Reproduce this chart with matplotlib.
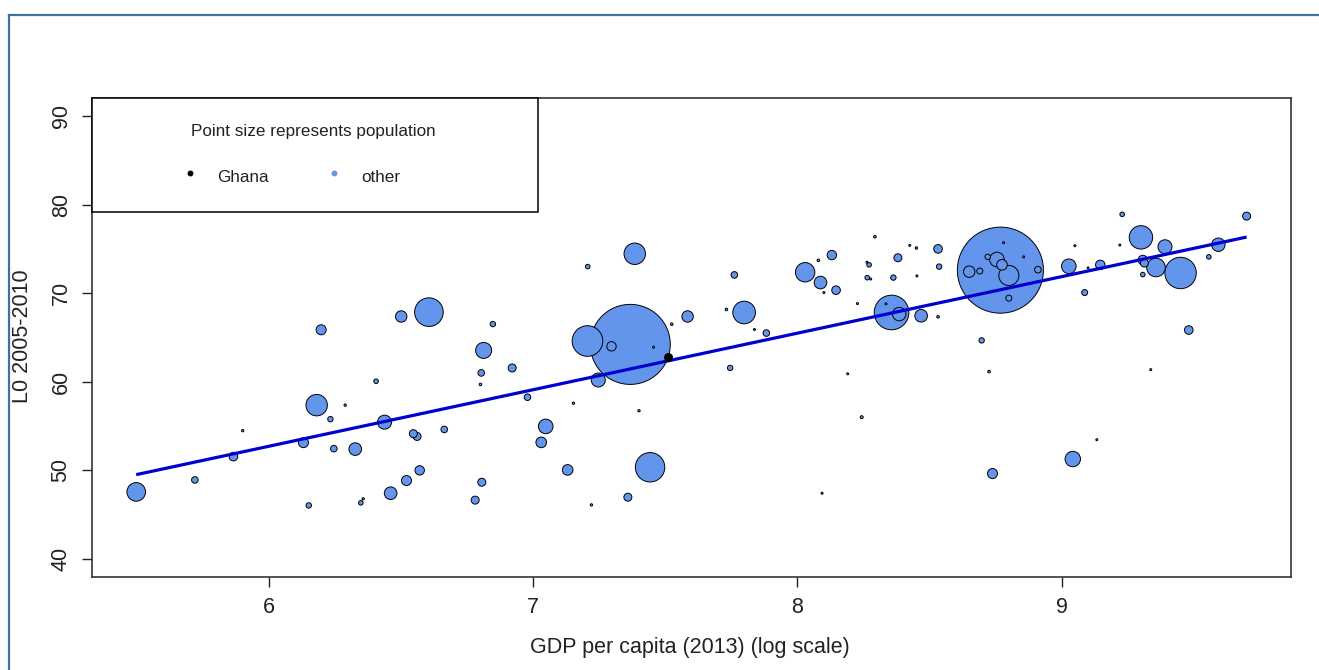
import numpy as np
import matplotlib.pyplot as plt
from matplotlib.patches import Rectangle
from matplotlib.lines import Line2D

plt.rcParams['font.family'] = ['Liberation Sans', 'DejaVu Sans']

# log of GDP per capita (2013) for every country except Ghana
log_gdp = [
    5.497, 5.719, 5.865, 5.900, 6.130, 6.150, 6.180, 6.197, 6.232, 6.288,
    6.245, 6.326, 6.347, 6.356, 6.405, 6.437, 6.460, 6.500, 6.546, 6.560,
    6.570, 6.520, 6.605, 6.663, 6.780, 6.805, 6.800, 6.803, 6.812, 6.847,
    6.920, 6.978, 7.030, 7.047, 7.130, 7.152, 7.205, 7.206, 7.220, 7.246,
    7.296, 7.358, 7.367, 7.384, 7.400, 7.442, 7.455, 7.524, 7.584, 7.731,
    7.745, 7.761, 7.798, 7.837, 7.882, 8.029, 8.079, 8.087, 8.093, 8.100,
    8.130, 8.146, 8.190, 8.227, 8.243, 8.263, 8.271, 8.264, 8.277, 8.293,
    8.335, 8.356, 8.363, 8.380, 8.385, 8.425, 8.450, 8.452, 8.468, 8.532,
    8.536, 8.532, 8.650, 8.690, 8.697, 8.720, 8.725, 8.738, 8.755, 8.768,
    8.774, 8.780, 8.800, 8.800, 8.856, 8.910, 9.027, 9.042, 9.050, 9.087,
    9.100, 9.133, 9.146, 9.220, 9.229, 9.300, 9.307, 9.313, 9.307, 9.337,
    9.357, 9.391, 9.450, 9.481, 9.557, 9.593, 9.700,
]

# life expectancy 2005-2010
life_exp = [
    47.57, 48.92, 51.55, 54.48, 53.13, 46.04, 57.36, 65.87, 55.78, 57.36,
    52.45, 52.40, 46.33, 46.78, 60.06, 55.44, 47.42, 67.37, 54.14, 53.83,
    50.00, 48.85, 67.86, 54.62, 46.64, 48.66, 59.70, 61.00, 63.54, 66.51,
    61.56, 58.26, 53.16, 54.96, 50.05, 57.58, 64.60, 73.00, 46.10, 60.20,
    64.00, 46.97, 64.22, 74.45, 56.73, 50.35, 63.90, 66.50, 67.37, 68.16,
    61.56, 72.06, 67.82, 65.90, 65.50, 72.36, 73.70, 71.20, 47.42, 70.07,
    74.30, 70.34, 60.90, 68.83, 56.00, 73.50, 73.20, 71.75, 71.60, 76.37,
    68.80, 67.82, 71.76, 74.00, 67.64, 75.40, 75.10, 71.95, 67.45, 75.00,
    73.00, 67.33, 72.43, 72.50, 64.67, 74.10, 61.15, 49.64, 73.80, 72.60,
    73.20, 75.70, 72.00, 69.44, 74.10, 72.65, 73.04, 51.28, 75.36, 70.07,
    72.85, 53.46, 73.20, 75.43, 78.90, 76.30, 73.75, 73.40, 72.10, 61.37,
    72.90, 75.24, 72.28, 65.84, 74.10, 75.47, 78.70,
]

# population in millions
pop_m = [
    67.7, 8.5, 14.5, 1.1, 19.6, 5.7, 89.7, 19.6, 5.7, 1.1,
    8.5, 31.1, 4.1, 1.1, 4.1, 38.4, 31.1, 25.4, 12.5, 12.5,
    17.3, 19.6, 160.1, 8.5, 12.5, 12.5, 1.3, 8.5, 50.1, 5.7,
    12.5, 8.5, 22.0, 41.7, 22.0, 1.1, 183.3, 4.1, 1.1, 38.4,
    17.3, 12.5, 1253.0, 89.7, 1.1, 169.2, 0.8, 1.3, 25.4, 1.3,
    5.7, 8.5, 100.0, 0.8, 8.5, 73.7, 1.3, 31.1, 0.8, 0.8,
    17.3, 14.5, 0.8, 0.8, 1.8, 0.8, 4.1, 4.1, 0.8, 1.3,
    0.8, 234.4, 5.7, 12.5, 35.2, 0.8, 1.3, 0.8, 31.1, 14.5,
    5.7, 1.3, 25.4, 7.0, 5.7, 5.7, 1.3, 19.6, 41.7, 1448.0,
    22.0, 0.8, 78.3, 7.0, 0.8, 8.5, 41.7, 46.4, 0.8, 7.0,
    0.8, 0.8, 17.3, 0.8, 4.1, 107.2, 17.3, 12.5, 4.1, 0.8,
    67.7, 38.4, 193.0, 14.5, 4.1, 35.2, 12.5,
]

ghana_gdp = 7.508
ghana_le = 62.83
ghana_pop = 12.5

# linear fit  life_exp ~ log_gdp
fit_intercept = 14.44
fit_slope = 6.381

x_ticks = [6, 7, 8, 9]
y_ticks = [40, 50, 60, 70, 80, 90]

SIZE_PER_MILLION = 2.65
FILL = '#6495ED'
AXIS_FONT = 15.5
LEGEND_FONT = 12.3

x = np.array(log_gdp)
y = np.array(life_exp)
p = np.array(pop_m)

fig = plt.figure(figsize=(13.19, 6.70), dpi=100)
ax = fig.add_axes([0.0696, 0.1393, 0.9092, 0.714])

# biggest circles first so the small ones stay visible
order = np.argsort(-p)
ax.scatter(x[order], y[order], s=p[order] * SIZE_PER_MILLION, c=FILL,
           edgecolors='black', linewidths=0.7, zorder=2)

xs = np.sort(np.append(x, ghana_gdp))
ax.plot(xs, fit_intercept + fit_slope * xs, color='#0000D0', lw=2.3,
        solid_capstyle='butt', zorder=3)

ax.scatter([ghana_gdp], [ghana_le], s=ghana_pop * SIZE_PER_MILLION,
           c='black', edgecolors='black', linewidths=0.7, zorder=4)

# R-style 4% padding around the data range
xmin, xmax = xs.min(), xs.max()
pad = 0.04 * (xmax - xmin)
ax.set_xlim(xmin - pad, xmax + pad)
ax.set_ylim(40 - 0.04 * 50, 90 + 0.04 * 50)

ax.set_xticks(x_ticks)
ax.set_yticks(y_ticks)
ax.tick_params(direction='out', length=7, width=1, pad=7.5,
               labelsize=AXIS_FONT, colors='#222222')
for lab in ax.get_yticklabels():
    lab.set_rotation(90)
    lab.set_va('center')
for sp in ax.spines.values():
    sp.set_color('#333333')
    sp.set_linewidth(1.2)

fig.text(690 / 1319, 1 - 653.5 / 670, 'GDP per capita (2013) (log scale)',
         ha='center', va='baseline', fontsize=AXIS_FONT, color='#222222')
fig.text(27.5 / 1319, 1 - 336 / 670, 'L0 2005-2010', rotation=90,
         rotation_mode='anchor', ha='center', va='baseline',
         fontsize=AXIS_FONT, color='#222222')

# legend box in the top-left corner
ax.add_patch(Rectangle((0, 0.762), 0.372, 0.238, transform=ax.transAxes,
                       facecolor='white', edgecolor='black', lw=1.1,
                       zorder=5, clip_on=False))
ax.text(0.1849, 0.9212, 'Point size represents population',
        transform=ax.transAxes, ha='center', va='baseline',
        fontsize=LEGEND_FONT, color='#222222', zorder=6)
ax.plot([0.0819], [0.8439], 'o', ms=3.2, color='black',
        transform=ax.transAxes, zorder=6)
ax.text(0.1044, 0.8257, 'Ghana', transform=ax.transAxes, va='baseline',
        fontsize=LEGEND_FONT, color='#222222', zorder=6)
ax.plot([0.2018], [0.8439], 'o', ms=3.2, color=FILL,
        transform=ax.transAxes, zorder=6)
ax.text(0.2243, 0.8257, 'other', transform=ax.transAxes, va='baseline',
        fontsize=LEGEND_FONT, color='#222222', zorder=6)

# page frame around the figure
fx, fy = 9 / 1319, 1 - 15 / 670
fig.add_artist(Line2D([fx, fx], [0, fy], color='#41719C', lw=1.6))
fig.add_artist(Line2D([fx, 1], [fy, fy], color='#41719C', lw=1.6))

fig.savefig('out.png', dpi=100)
